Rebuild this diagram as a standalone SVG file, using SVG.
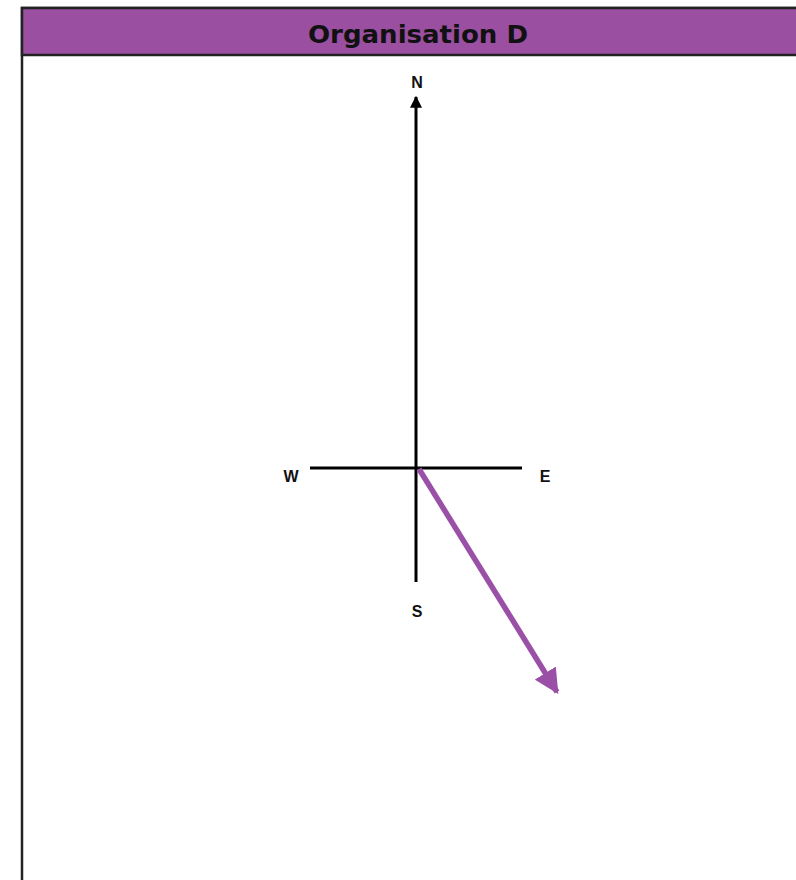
<svg xmlns="http://www.w3.org/2000/svg" width="796" height="880" viewBox="0 0 796 880">
<style>
.lbl{font-family:"Liberation Sans",Arial,sans-serif;font-weight:bold;font-size:16px;fill:#111;text-anchor:middle}
.axis{stroke:#000;stroke-width:3;fill:none}
</style>
<defs>
<marker id="ahBlack" viewBox="0 0 10 10" refX="9" refY="5" markerWidth="4" markerHeight="4" orient="auto" markerUnits="strokeWidth">
<path d="M0,0 L10,5 L0,10 z" fill="#000"/>
</marker>
<marker id="ahPurple" viewBox="0 0 10 10" refX="9" refY="5" markerWidth="4.5" markerHeight="4.5" orient="auto" markerUnits="strokeWidth">
<path d="M0,0 L10,5 L0,10 z" fill="#9B50A8"/>
</marker>
</defs>
<rect x="0" y="0" width="796" height="880" fill="#fff"/>
<g id="frame">
<rect x="22" y="8" width="790" height="900" fill="#fff" stroke="#222" stroke-width="2.5"/>
<rect x="22" y="8" width="790" height="47" fill="#9A4FA0" stroke="#222" stroke-width="2.5"/>
<text x="418" y="43" font-family="'DejaVu Sans Condensed','Liberation Sans',Arial,sans-serif" font-weight="bold" font-size="25" fill="#111" text-anchor="middle" textLength="220" lengthAdjust="spacingAndGlyphs">Organisation D</text>
</g>
<g id="connectors">
<line class="axis" x1="416" y1="582" x2="416" y2="97" marker-end="url(#ahBlack)"/>
<line class="axis" x1="310" y1="468" x2="522" y2="468"/>
<line x1="419" y1="469" x2="557" y2="692" stroke="#9B50A8" stroke-width="5.5" marker-end="url(#ahPurple)"/>
</g>
<g id="N"><text class="lbl" x="417" y="88">N</text></g>
<g id="W"><text class="lbl" x="291" y="482">W</text></g>
<g id="E"><text class="lbl" x="545" y="482">E</text></g>
<g id="S"><text class="lbl" x="417" y="617">S</text></g>
</svg>
